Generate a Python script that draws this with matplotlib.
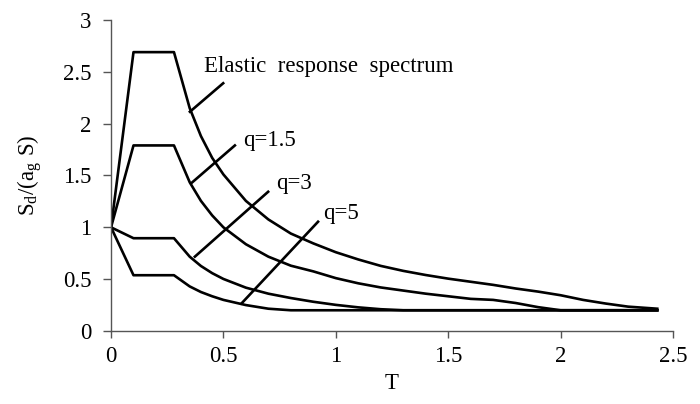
import numpy as np
import matplotlib.pyplot as plt

plt.rcParams['font.family'] = ['Liberation Serif', 'DejaVu Serif']
plt.rcParams['mathtext.fontset'] = 'custom'
plt.rcParams['mathtext.rm'] = 'Liberation Serif'
plt.rcParams['mathtext.it'] = 'Liberation Serif:italic'

# periods T [s]
T_elastic = [0, 0.1, 0.28, 0.35, 0.4, 0.45, 0.5, 0.6, 0.7, 0.8, 0.9, 1.0, 1.1, 1.2,
             1.3, 1.4, 1.5, 1.6, 1.7, 1.8, 1.9, 2.0, 2.1, 2.2, 2.3, 2.43]
S_elastic = [1.0, 2.69, 2.69, 2.15, 1.88, 1.67, 1.51, 1.255, 1.076, 0.94, 0.845, 0.76,
             0.69, 0.628, 0.58, 0.54, 0.505, 0.475, 0.445, 0.41, 0.38, 0.345, 0.30,
             0.265, 0.235, 0.215]

T_q15 = [0, 0.1, 0.28, 0.35, 0.4, 0.45, 0.5, 0.6, 0.7, 0.8, 0.9, 1.0, 1.1, 1.2,
         1.3, 1.4, 1.5, 1.6, 1.7, 1.8, 1.9, 2.0, 2.43]
S_q15 = [1.0, 1.79, 1.79, 1.435, 1.255, 1.115, 1.0, 0.837, 0.717, 0.63, 0.575, 0.51,
         0.46, 0.42, 0.39, 0.36, 0.335, 0.31, 0.30, 0.27, 0.23, 0.2, 0.2]

T_q3 = [0, 0.1, 0.28, 0.35, 0.4, 0.45, 0.5, 0.6, 0.7, 0.8, 0.9, 1.0, 1.1, 1.2, 1.3, 2.43]
S_q3 = [1.0, 0.895, 0.895, 0.717, 0.627, 0.558, 0.502, 0.418, 0.36, 0.318, 0.282,
        0.252, 0.228, 0.21, 0.2, 0.2]

T_q5 = [0, 0.1, 0.28, 0.35, 0.4, 0.45, 0.5, 0.6, 0.7, 0.8, 2.43]
S_q5 = [1.0, 0.538, 0.538, 0.43, 0.376, 0.335, 0.30, 0.25, 0.215, 0.2, 0.2]

# label text, leader line start/end, text anchor
labels = ['Elastic  response  spectrum', 'q=1.5', 'q=3', 'q=5']
leader_start = [(0.351, 2.115), (0.356, 1.424), (0.373, 0.717), (0.581, 0.267)]
leader_end = [(0.499, 2.39), (0.551, 1.79), (0.699, 1.343), (0.921, 1.054)]
text_pos = [(0.415, 2.55), (0.588, 1.84), (0.736, 1.42), (0.944, 1.135)]

fig = plt.figure(figsize=(7, 4.04), dpi=100)
ax = fig.add_axes([0.1586, 0.1807, 0.8028, 0.7698])

for T, S in [(T_elastic, S_elastic), (T_q15, S_q15), (T_q3, S_q3), (T_q5, S_q5)]:
    ax.plot(T, S, color='black', lw=1.9, solid_joinstyle='round')

for lab, p0, p1, tp in zip(labels, leader_start, leader_end, text_pos):
    ax.plot([p0[0], p1[0]], [p0[1], p1[1]], color='black', lw=1.9)
    ax.text(tp[0], tp[1], lab, fontsize=16.5, ha='left', va='center')

ax.set_xlim(0, 2.5)
ax.set_ylim(0, 3)
ax.set_xticks(np.arange(0, 2.51, 0.5))
ax.set_xticklabels(['0', '0.5', '1', '1.5', '2', '2.5'])
ax.set_yticks(np.arange(0, 3.01, 0.5))
ax.set_yticklabels(['0', '0.5', '1', '1.5', '2', '2.5', '3'])
ax.tick_params(direction='out', width=1, color='#555555', labelsize=16.5)
ax.tick_params(axis='x', length=5, pad=6)
ax.tick_params(axis='y', length=6, pad=8)
for side in ['top', 'right']:
    ax.spines[side].set_visible(False)
for side in ['left', 'bottom']:
    ax.spines[side].set_color('#555555')
    ax.spines[side].set_linewidth(1)

ax.set_xlabel('T', fontsize=16.5, labelpad=4)
ax.set_ylabel(r'S$_{\rm d}$/(a$_{\rm g}$ S)', fontsize=16.5, labelpad=14)

fig.savefig('out.png', dpi=100)
